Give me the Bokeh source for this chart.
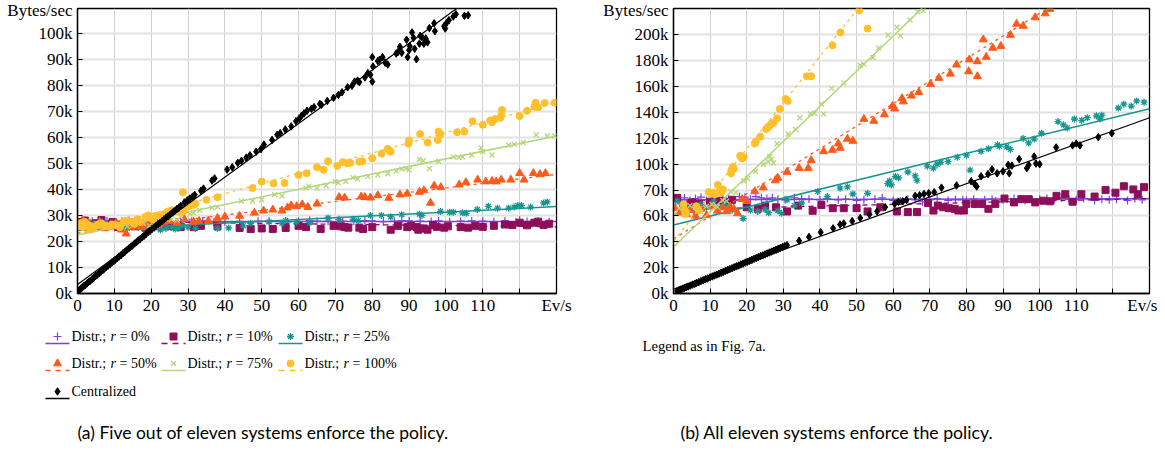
from bokeh.plotting import figure
from bokeh.models import Range1d, FixedTicker
from bokeh.layouts import column, row
from bokeh.core.properties import value
from bokeh.embed import file_html
from bokeh.resources import INLINE

SERIF = "Liberation Serif"
SANS = "Lato"

# ---------------- axis ticks / labels ----------------
x_ticks = [0, 10, 20, 30, 40, 50, 60, 70, 80, 90, 100, 110, 120]
x_tick_labels = ["0", "10", "20", "30", "40", "50", "60", "70", "80", "90", "100", "110", ""]
x_unit = "Ev/s"
y_unit = "Bytes/sec"
ya_ticks = [0, 10, 20, 30, 40, 50, 60, 70, 80, 90, 100]
ya_labels = ["0k", "10k", "20k", "30k", "40k", "50k", "60k", "70k", "80k", "90k", "100k"]
yb_ticks = [0, 20, 40, 60, 80, 100, 120, 140, 160, 180, 200]
yb_labels = ["0k", "20k", "40k", "60k", "70k", "100k", "120k", "140k", "160k", "180k", "200k"]

r_values = ["0%", "10%", "25%", "50%", "75%", "100%"]
central_name = "Centralized"
caption_a = "(a) Five out of eleven systems enforce the policy."
caption_b = "(b) All eleven systems enforce the policy."
legend_note = "Legend as in Fig. 7a."

# ---------------- panel (a) data, values in k bytes/sec ----------------
a_r0 = [(0.5,27.5),(2,28.0),(4,27.8),(6,27.6),(8,27.9),(10,27.4),(12,27.8),(14,28.0),(16,27.5),(18,27.7),
        (20,27.3),(22,27.5),(25,27.5),(28,27.6),(31,27.8),(34,27.9),(37,27.4),(40,27.6),(44,27.7),(49,27.8),
        (52,27.8),(57,27.5),(60,27.7),(63,28.0),(65,27.8),(68,27.8),(72,27.8),(75,27.8),(78,28.0),(80,27.9),
        (83,27.6),(86,27.8),(88,28.0),(90,27.9),(93,27.8),(96,27.7),(98,27.9),(101,27.6),(104,27.8),(107,27.9),
        (110,27.8),(113,27.6),(116,27.9),(119,27.6),(120,28.1),(122,27.7),(125,27.8),(128,27.6)]
a_r0_fit = [(0, 27.6), (130, 27.7)]
a_r10 = [(0.8,27.5),(2,28.0),(3.5,26.5),(5,27.0),(6.5,28.2),(8,26.0),(9.5,27.5),(11,25.5),(12.5,26.8),(14,27.5),
         (15.5,25.8),(17,26.5),(18.5,25.2),(20,26.5),(22,27.0),(24,26.0),(26,25.8),(28,25.5),(31.5,25.5),(33.5,26.0),
         (38,25.8),(44,25.2),(47,24.8),(50,25.0),(53,24.8),(56.5,25.2),(60,26.0),(62,25.5),(66,24.8),(69.5,26.0),
         (71.5,25.8),(72.5,25.5),(73.5,25.3),(76.5,25.3),(77.5,24.8),(80,25.5),(85,24.5),(87,26.0),(89.5,25.5),(90.5,26.0),
         (92,25.5),(92.5,24.5),(94,25.0),(95,24.5),(96.5,26.3),(97.5,25.6),(99.5,25.3),(100.5,25.8),(104,25.5),(106,25.3),
         (108,26.0),(110,25.6),(113,26.0),(116,26.5),(118,26.3),(120,27.2),(122,26.2),(124,27.2),(125,27.6),(126.5,26.3),(128,26.8)]
a_r10_fit = [(0, 27.8), (130, 25.6)]
a_r25 = [(0.5,27.0),(1.5,26.5),(3,27.5),(4.5,26.8),(6,26.0),(7.5,27.0),(9,25.8),(10.5,26.5),(12,25.5),(13.5,25.0),
         (15,26.5),(16.5,25.5),(18,25.0),(19.5,26.5),(21,25.2),(22.5,24.5),(24,25.0),(25.5,25.5),(26.5,24.8),(27.5,25.2),
         (28.5,26.0),(30,25.5),(32,25.0),(38,25.0),(41,25.2),(45,26.0),(47,27.0),(52,27.5),(55.5,27.0),(56.5,28.0),
         (59.5,27.5),(63,27.2),(68,29.0),(71,28.5),(74.8,28.5),(76.2,28.0),(79.5,30.0),(82.5,30.0),(85,29.5),(88,30.3),
         (92.8,30.5),(93.5,30.0),(98.5,31.5),(101,31.2),(102,31.2),(104.5,31.0),(105.5,30.8),(108.5,32.3),(111.5,33.5),(114,32.8),
         (117,32.8),(118.5,33.2),(119.5,33.8),(120.5,33.8),(123,33.2),(126.5,34.8),(127.5,35.2)]
a_r25_fit = [(0, 24.2), (130, 33.4)]
a_r50 = [(0.5,26.5),(1.5,28.0),(3,27.0),(4.5,26.0),(6,27.5),(7.5,25.0),(9,26.5),(10.5,27.2),(12,24.5),(13.2,23.0),
         (14.5,25.5),(16,26.0),(17.5,25.5),(19,26.5),(20.5,27.0),(22,26.5),(23.5,27.5),(25,27.8),(27,27.2),(29,28.5),
         (31.5,27.5),(33,27.8),(35.5,28.0),(38,29.0),(40,29.5),(44,29.8),(48,31.0),(50.5,31.8),(53,32.2),(55.5,31.8),
         (57,33.0),(58,33.8),(59.5,33.5),(61,34.2),(62.5,33.2),(65,34.5),(71,37.0),(72.5,36.8),(77,37.2),(78,37.0),
         (79.5,36.8),(81.5,37.7),(84.5,36.7),(87.5,38.0),(89.5,38.3),(92.8,39.0),(94,39.6),(95.8,34.8),(96.8,41.4),(98.6,40.8),
         (103.6,41.8),(105.4,42.7),(108.6,43.7),(110.8,43.0),(112.5,43.2),(113.6,43.0),(115,43.7),(117.6,43.7),(120,46.2),(121.2,43.7),
         (123.7,46.2),(125.5,45.8),(127,46.2)]
a_r50_fit = [(0, 23.2), (130, 45.8)]
a_r75 = [(0.5,27.0),(1.5,26.5),(3,25.5),(4.5,26.2),(6,25.8),(7.5,26.5),(9,25.2),(10.5,26.0),(12,26.5),(13.5,25.8),
         (15,26.2),(16.5,27.5),(18,26.8),(19.5,26.0),(21,27.5),(22.5,27.2),(24,28.5),(25.5,28.5),(27,28.2),(28,29.5),
         (30.5,30.5),(31.5,31.0),(33.2,32.0),(36.5,33.0),(38,33.2),(44.5,35.5),(47.5,35.5),(50,36.0),(53.5,38.0),(55.5,37.5),
         (62,40.5),(62.8,41.2),(65,40.5),(67.5,41.5),(70,43.0),(70.8,42.5),(72.8,43.0),(74.8,44.5),(76,44.0),(78.8,45.0),
         (81.5,45.5),(84.2,46.0),(86.5,47.0),(88,47.8),(89.2,48.0),(90,47.5),(92.8,51.5),(93.8,51.0),(95.5,48.0),(98,50.8),
         (102,52.5),(103.5,52.3),(104.5,52.5),(107,53.2),(109.5,56.0),(110,54.5),(112.5,53.2),(117,57.0),(118.5,57.3),(121,58.0),
         (124.5,61.0),(127.5,60.5),(129.5,60.5)]
a_r75_fit = [(0, 22.5), (130, 60.5)]
a_r100 = [(0.8,27.0),(1.2,26.0),(1.5,25.5),(2,27.5),(2.5,26.5),(3,26.2),(3.5,24.5),(4.5,25.5),(5.5,26.5),(6.5,27.0),
          (7.5,26.0),(8.5,25.8),(9.5,26.5),(10.5,26.2),(11.5,25.5),(12.5,27.8),(13.5,28.0),(14.5,27.5),(15.5,26.8),(16.2,28.5),
          (17,27.5),(18.5,29.5),(19.2,30.0),(19.8,29.0),(20.5,28.5),(21.5,30.0),(22.5,29.5),(23.5,30.5),(24.5,31.5),(25.5,32.0),
          (26.5,31.8),(27.5,31.5),(28.6,38.9),(28.8,31.7),(29.5,33.5),(30.2,33.5),(31.5,34.0),(32,34.5),(35,36.0),(38,37.0),
          (47.5,40.5),(50,43.0),(53.2,42.3),(56.2,42.5),(60,45.5),(62.2,46.2),(65,48.5),(66.8,47.5),(68,50.8),(70.5,49.0),
          (72,50.5),(73.2,50.0),(74,50.2),(76.5,50.6),(77.3,50.8),(80,52.0),(82.5,53.7),(84.2,55.6),(85,54.5),(84.6,55.0),
          (89.8,57.6),(90,58.8),(93,61.3),(95,58.0),(98,62.2),(98.5,61.2),(97.8,59.0),(103,62.0),(105,62.2),(107.2,66.2),
          (110,64.8),(112,66.5),(112.5,65.8),(113.3,67.0),(115,68.5),(115.2,70.5),(114.8,67.5),(120,68.2),(122,70.2),(124,71.8),
          (124.3,73.3),(125,71.5),(126.8,73.2),(129.5,73.3)]
a_r100_fit = [(0, 22.8), (130, 73.5)]
a_central = [(0.3,1.1),(0.6,1.5),(1.0,2.0),(1.3,2.3),(1.7,2.9),(2.1,3.2),(2.6,3.9),(3.0,4.4),(3.5,4.9),(4.0,5.6),
             (4.4,6.0),(4.9,6.7),(5.4,7.2),(5.9,7.8),(6.3,8.3),(6.8,8.9),(7.3,9.5),(7.8,10.1),(8.3,10.7),(8.8,11.2),
             (9.3,11.9),(9.8,12.4),(10.3,13.0),(10.8,13.6),(11.3,14.2),(11.8,14.7),(12.3,15.4),(12.8,15.9),(13.3,16.6),(13.9,17.3),
             (14.4,17.9),(14.9,18.4),(15.5,19.2),(16.0,19.7),(16.5,20.4),(17.0,20.9),(17.6,21.7),(18.1,22.2),(18.6,22.8),(19.2,23.6),
             (19.7,24.1),(20.2,24.7),(20.8,25.4),(21.3,26.0),(21.9,26.7),(22.4,27.2),(23.0,27.9),(23.5,28.5),(24.1,29.2),(24.6,29.7),
             (25.2,30.4),(25.8,31.1),(26.3,31.6),(26.9,32.4),(27.5,33.0),(28.0,33.6),(29.0,35.0),(29.8,35.8),(30.5,36.5),(31.2,37.2),
             (31.8,37.9),(33.5,39.5),(34.2,40.3),(36.5,43.4),(37.2,44.2),(40.6,47.6),(42.0,48.5),(43.5,50.2),(44.5,51.0),(45.8,52.2),
             (46.8,53.1),(48.5,54.5),(49.8,55.5),(50.6,57.2),(52.8,59.0),(54.2,61.0),(55.0,61.6),(56.4,63.0),(58.0,64.2),(59.3,66.2),
             (60.2,67.2),(60.8,68.3),(61.5,69.2),(62.3,70.2),(63.5,71.0),(64.2,71.6),(65.8,72.8),(66.2,72.5),(67.8,74.0),(69.5,75.2),
             (70.8,76.3),(71.8,77.3),(73.3,79.2),(74.5,79.8),(75.2,81.4),(76.0,81.8),(76.5,81.2),(78.0,83.0),(78.8,84.7),(79.5,84.0),
             (80.0,81.4),(80.2,87.2),(80.0,90.8),(81.5,89.3),(82.0,89.8),(82.8,90.8),(83.5,88.7),(84.2,88.0),(86.5,92.2),(87.0,92.8),
             (87.5,94.8),(88.0,92.5),(89.3,97.5),(89.6,90.8),(90.0,93.5),(90.2,95.0),(90.8,100.3),(91.2,98.2),(91.5,94.0),(92.0,90.0),
             (92.8,96.0),(93.0,99.0),(93.5,98.5),(94.0,96.0),(94.5,98.0),(95.0,96.5),(95.5,102.0),(96.8,103.8),(97.0,100.8),(99.5,102.7),
             (99.8,101.8),(100.2,104.0),(100.8,105.0),(102.0,106.4),(102.7,107.3),(105.0,106.7),(106.0,106.9)]
a_central_fit = [(0, 3.5), (130, 137.4)]

# ---------------- panel (b) data, values in k bytes/sec ----------------
b_r0 = [(0.5,73.0),(1.5,71.5),(3,74.0),(4.5,72.0),(6,73.5),(7.5,74.5),(9,72.0),(10.5,73.0),(12,71.5),(13.5,74.0),
        (15,73.5),(16.5,72.0),(18,75.0),(19.5,74.5),(21,73.0),(22.5,75.0),(24,74.0),(25.5,73.5),(27,74.0),(28.5,73.0),
        (30.5,72.5),(33,74.0),(35,73.5),(37,73.0),(40,72.5),(42,73.5),(45,72.5),(47,73.0),(50,72.0),(52,72.5),
        (55,73.0),(57,74.0),(60,72.0),(62,71.5),(64,73.0),(66,72.5),(68,71.0),(70,72.5),(72,73.5),(75,72.0),
        (77,72.5),(79,72.5),(80,72.0),(82,73.0),(85,72.5),(87,73.0),(88,71.5),(90,72.5),(93,73.5),(95,73.0),
        (96,72.0),(98,72.0),(100,73.0),(102,73.5),(104,72.5),(106,74.0),(108,73.0),(110,72.5),(112,73.5),(115,72.0),
        (117,73.0),(119,72.5),(121,73.0),(124,72.0),(126,73.5),(128,72.5)]
b_r0_fit = [(0, 72.5), (130, 73.3)]
b_r10 = [(1,74.0),(3,68.5),(5,70.5),(7,69.3),(10,71.0),(12.5,71.8),(14,70.5),(16,72.5),(20,66.7),(23,65.5),
         (25,68.0),(28,66.7),(31,63.5),(34,68.0),(38,64.0),(40.4,68.5),(43.5,66.0),(46.5,66.0),(50,66.0),(53,63.5),
         (56.5,66.7),(61,63.5),(64,63.0),(66.5,63.0),(69.5,70.0),(71,64.2),(72.2,68.0),(73.7,66.7),(75.2,66.0),(76.8,65.5),
         (77.8,64.2),(79.3,64.2),(80,69.3),(82.3,69.3),(84.3,69.3),(86,65.5),(87.9,69.3),(90.4,73.5),(93,70.5),(95,73.0),
         (97,73.0),(98.8,70.5),(101,71.8),(102.8,71.3),(104.6,75.5),(107,76.8),(109,71.0),(111.4,76.8),(115,75.0),(118,80.0),
         (120.7,78.0),(123,83.0),(125.6,80.5),(126.8,76.8),(128.5,82.3)]
b_r10_fit = [(0, 65.0), (130, 73.5)]
b_r25 = [(1,71.5),(2.5,68.0),(4.5,66.0),(6,63.0),(7.5,69.0),(9,66.5),(11,71.5),(12.5,67.0),(14,69.0),(16,64.5),
         (19,58.0),(21,64.5),(23,63.5),(25,65.0),(26,62.5),(28.5,64.0),(29.5,62.0),(31,72.5),(33,68.0),(35,70.0),
         (39.4,79.0),(42,75.0),(45.5,81.5),(47.5,82.5),(49,77.0),(53,77.5),(58.5,85.0),(59,87.0),(59.5,84.0),(60.6,90.5),
         (61.5,89.5),(64,94.0),(66,91.0),(66.5,87.5),(69.3,98.5),(71,97.0),(72,100.0),(73,101.5),(75,102.0),(77.5,105.5),
         (80,107.0),(81,95.5),(84,110.0),(86,112.0),(88.5,115.0),(89,114.0),(91,113.5),(92,111.5),(95.5,120.0),(97,116.5),
         (98.5,119.5),(100.5,124.0),(105,133.0),(106.5,130.5),(107.5,128.0),(109.5,135.0),(111.5,134.0),(113,136.0),(115.5,137.5),(116.5,135.0),
         (117,138.0),(121.5,143.5),(123,146.5),(125,145.0),(126.5,149.0),(128.5,148.0)]
b_r25_fit = [(0, 53.0), (130, 143.0)]
b_r50 = [(0.5,66.0),(1.5,62.5),(2.5,68.0),(3.5,61.5),(4.5,64.5),(6,60.0),(7.5,65.5),(9,60.5),(10.5,67.5),(12,64.0),
         (13.5,66.5),(14.5,63.5),(15.5,67.0),(16.5,65.5),(17.5,62.0),(18.7,73.0),(20,71.5),(22.2,79.0),(24.5,82.0),(27.8,87.4),
         (28.5,89.4),(31,94.0),(34.3,97.0),(36.8,97.0),(37.6,103.0),(41,110.0),(43.4,111.0),(45.5,112.6),(45,116.0),(47.5,119.6),
         (49,118.0),(52,135.0),(54.7,133.5),(57.6,138.5),(59.8,145.0),(60.4,143.0),(62.4,151.0),(62.8,148.5),(65,153.0),(67,155.7),
         (70.2,162.0),(72.5,166.7),(75.6,170.0),(77.3,177.0),(80.8,181.0),(80.6,171.8),(83,168.0),(83,179.6),(85.4,183.0),(84.6,196.5),
         (87.2,190.0),(89.4,191.4),(92,200.0),(93.7,208.6),(95.5,207.0),(98.8,213.6),(101.5,216.6),(102.8,220.0)]
b_r50_fit = [(0, 42.3), (130, 269.0)]
b_r75 = [(0.5,62.0),(1.5,66.0),(3,64.0),(4.5,68.0),(6,66.5),(7.5,63.0),(9,67.5),(10.5,69.0),(12,67.0),(13.5,72.0),
         (14.5,71.5),(15.6,79.0),(17,78.0),(19.2,87.0),(20.2,89.0),(22.4,94.5),(24.5,100.0),(25.8,102.0),(26.3,105.8),(26.8,104.0),
         (27.3,101.0),(28.3,115.9),(31.3,123.4),(33.3,127.0),(34.5,136.0),(37.4,139.0),(38.5,139.5),(41,139.0),(40.4,146.6),(43.2,158.7),
         (46.5,163.0),(51,176.6),(52,177.5),(54.5,182.6),(56,190.0),(58.6,200.0),(61,206.0),(62,199.5),(64.6,211.6),(66.7,218.0),
         (68.2,219.0)]
b_r75_fit = [(0, 36.0), (80, 253.6)]
b_r100 = [(2.8,69.0),(3.0,64.5),(3.2,61.5),(3.5,62.5),(6.2,67.5),(6.8,64.5),(9.6,78.5),(10.2,77.5),(10.8,78.0),(11.5,77.0),
          (12.1,84.0),(12.6,79.0),(13.1,78.5),(13.5,80.5),(15.7,93.0),(15.8,95.5),(16.2,98.0),(16.5,96.5),(18.2,106.5),(18.7,104.5),
          (19.2,105.5),(22.2,116.0),(22.5,117.5),(23.7,121.4),(25.3,127.2),(25.8,128.5),(26.3,130.0),(26.8,131.5),(27.3,132.0),(28.3,135.5),
          (29.0,142.8),(30.6,150.5),(31.2,149.0),(36.4,168.0),(37.6,168.0),(43.4,192.0),(45.6,202.0),(50.7,219.0),(53.0,205.0)]
b_r100_fit = [(0, 40.4), (62, 262.0)]
b_central = [(1.0,2.0),(1.5,2.6),(2.0,3.1),(2.5,3.7),(3.0,4.4),(3.5,4.9),(4.0,5.4),(4.6,6.1),(5.2,6.9),(5.8,7.5),
             (6.3,8.2),(6.9,8.8),(7.5,9.6),(8.1,10.3),(8.7,11.0),(9.3,11.6),(10.0,12.5),(10.6,13.2),(11.2,13.9),(11.8,14.6),
             (12.4,15.3),(13.0,16.0),(13.6,16.7),(14.2,17.5),(14.8,18.2),(15.4,18.9),(16.0,19.6),(16.6,20.3),(17.2,21.0),(17.8,21.7),
             (18.4,22.5),(19.0,23.1),(19.6,23.9),(20.2,24.6),(20.8,25.3),(21.4,26.0),(22.0,26.8),(22.6,27.4),(23.2,28.2),(23.8,28.9),
             (24.4,29.6),(25.0,30.3),(25.6,31.0),(26.2,31.7),(26.8,32.4),(27.4,33.2),(28.0,33.8),(28.6,34.6),(29.2,35.3),(29.8,36.0),
             (30.4,36.7),(31.0,37.4),(34.3,40.8),(37.0,43.8),(40.2,47.4),(43.6,50.4),(45.5,53.4),(46.5,54.2),(48.8,56.0),(51.0,58.4),
             (53.5,61.2),(55.6,63.5),(57.8,66.8),(60.4,69.3),(61.4,71.0),(62.6,71.3),(63.6,72.3),(66.0,75.5),(67.2,76.0),(68.4,77.0),
             (69.7,77.6),(71.2,78.3),(73.2,81.9),(77.3,83.6),(81.3,86.9),(82.3,84.5),(82.8,82.8),(84.0,90.7),(85.9,92.4),(87.0,96.0),
             (88.4,93.0),(90.0,94.5),(91.4,99.5),(91.7,93.0),(92.4,99.0),(94.4,104.0),(96.5,97.0),(97.0,99.5),(98.5,106.0),(99.0,100.5),
             (100.0,100.0),(104.5,113.0),(109.0,114.6),(110.0,116.0),(111.0,114.6),(116.0,121.0),(119.7,124.0)]
b_central_fit = [(0, 3.3), (130, 136.0)]

# ---------------- styles (not data) ----------------
STY = {
    "r0":   dict(color="#7B3FE4", marker="cross",    size=8,   dash="solid", lw=1.5, mlw=1.2),
    "r10":  dict(color="#8E0E5A", marker="square",   size=7,   dash="5 4",   lw=1.3, mlw=1.0),
    "r25":  dict(color="#16968F", marker="asterisk", size=7,   dash="solid", lw=1.5, mlw=1.3),
    "r50":  dict(color="#FF5A1A", marker="triangle", size=8,   dash="3 4",   lw=1.3, mlw=1.0),
    "r75":  dict(color="#B5D67A", marker="x",        size=7,   dash="solid", lw=1.5, mlw=1.3),
    "r100": dict(color="#FFC02B", marker="circle",   size=7,   dash="3 4",   lw=1.3, mlw=1.0),
    "c":    dict(color="#000000", marker="diamond",  size=7.5, dash="solid", lw=1.2, mlw=1.0),
}
LEG_DASH = {"r0": "solid", "r10": "6 5", "r25": "solid", "r50": "5 5", "r75": "solid", "r100": "6 5", "c": "solid"}

TOP_H = 322
XMAX = 130


def draw_series(p, key, pts, fit):
    s = STY[key]
    xs = [a for a, b in pts]
    ys = [b for a, b in pts]
    p.scatter(xs, ys, marker=s["marker"], size=s["size"], line_color=s["color"],
              fill_color=s["color"], line_width=s["mlw"])
    p.line([a for a, b in fit], [b for a, b in fit], line_color=s["color"],
           line_width=s["lw"], line_dash=s["dash"])


def make_panel(width, mb_left, mb_right, mb_top, mb_bottom, ymax, yticks, ylabels, series):
    p = figure(width=width, height=TOP_H, x_range=Range1d(0, XMAX), y_range=Range1d(0, ymax),
               toolbar_location=None, output_backend="svg",
               min_border_left=mb_left, min_border_right=mb_right,
               min_border_top=mb_top, min_border_bottom=mb_bottom)
    p.background_fill_color = "white"
    p.border_fill_color = "white"
    p.outline_line_color = "black"
    p.outline_line_width = 1.3
    # unit names sit on ticks placed on the frame edges (their tick marks hide in the outline)
    xt = x_ticks + [XMAX]
    xl = x_tick_labels + [x_unit]
    yt = yticks + [ymax]
    yl = ylabels + [y_unit]
    p.xaxis.ticker = FixedTicker(ticks=xt)
    p.xaxis.major_label_overrides = {t: l for t, l in zip(xt, xl)}
    p.yaxis.ticker = FixedTicker(ticks=yt)
    p.yaxis.major_label_overrides = {t: l for t, l in zip(yt, yl)}
    for ax in (p.xaxis[0], p.yaxis[0]):
        ax.axis_line_color = "black"
        ax.axis_line_width = 1.3
        ax.major_tick_in = 5
        ax.major_tick_out = 0
        ax.major_tick_line_color = "black"
        ax.minor_tick_line_color = None
        ax.major_label_text_font = SERIF
        ax.major_label_text_font_size = "17px"
        ax.major_label_text_color = "black"
    p.xaxis.major_label_standoff = 2
    p.yaxis.major_label_standoff = 5
    p.xgrid.ticker = FixedTicker(ticks=x_ticks)
    p.ygrid.ticker = FixedTicker(ticks=yticks)
    p.xgrid.grid_line_color = "#d2d2d2"
    p.xgrid.grid_line_width = 1
    p.ygrid.grid_line_color = "#e2e2e2"
    p.ygrid.grid_line_width = 2
    for key, pts, fit in series:
        draw_series(p, key, pts, fit)
    return p


series_a = [("r0", a_r0, a_r0_fit), ("r10", a_r10, a_r10_fit), ("r25", a_r25, a_r25_fit),
            ("r50", a_r50, a_r50_fit), ("r75", a_r75, a_r75_fit), ("r100", a_r100, a_r100_fit),
            ("c", a_central, a_central_fit)]
series_b = [("r0", b_r0, b_r0_fit), ("r10", b_r10, b_r10_fit), ("r25", b_r25, b_r25_fit),
            ("r50", b_r50, b_r50_fit), ("r75", b_r75, b_r75_fit), ("r100", b_r100, b_r100_fit),
            ("c", b_central, b_central_fit)]

# panel a: frame x 77..556, y 8..295 ; panel b: frame x 669..1149, y 4..293
p1 = make_panel(600, 77, 44, 8, TOP_H - 8 - 287, 109.5, ya_ticks, ya_labels, series_a)
p2 = make_panel(557, 69, 8, 4, TOP_H - 4 - 289, 220.5, yb_ticks, yb_labels, series_b)

# ---------------- bottom strip: legend and captions (page coordinates) ----------------
BOT_H = 125
p3 = figure(width=1157, height=BOT_H, x_range=Range1d(0, 1157), y_range=Range1d(TOP_H + BOT_H, TOP_H),
            toolbar_location=None, output_backend="svg", x_axis_type=None, y_axis_type=None,
            min_border=0)
p3.grid.visible = False
p3.outline_line_color = None
p3.background_fill_color = "white"
p3.border_fill_color = "white"

leg_keys = ["r0", "r10", "r25", "r50", "r75", "r100", "c"]
col_x = [45, 161, 278]
row_y = [336, 363, 391]
for i, key in enumerate(leg_keys):
    s = STY[key]
    cx = col_x[i % 3]
    cy = row_y[i // 3]
    p3.segment(x0=[cx], y0=[cy + 7], x1=[cx + 24], y1=[cy + 7], line_color=s["color"],
               line_width=1.3, line_dash=LEG_DASH[key])
    p3.scatter([cx + 12], [cy], marker=s["marker"], size=s["size"], line_color=s["color"],
               fill_color=s["color"], line_width=s["mlw"])
    tx = cx + 26
    if key == "c":
        p3.text([tx], [cy], text=[central_name], text_font=value(SERIF), text_font_size="14px",
                text_baseline="middle", text_align="left", text_color="black")
    else:
        p3.text([tx], [cy], text=["Distr.;"], text_font=value(SERIF), text_font_size="14px",
                text_baseline="middle", text_align="left", text_color="black")
        p3.text([tx + 39], [cy], text=["r"], text_font=value(SERIF), text_font_size="14px",
                text_font_style="italic", text_baseline="middle", text_align="left", text_color="black")
        p3.text([tx + 48], [cy], text=["= " + r_values[i]], text_font=value(SERIF), text_font_size="14px",
                text_baseline="middle", text_align="left", text_color="black")

p3.text([642], [345], text=[legend_note], text_font=value(SERIF), text_font_size="14.7px",
        text_baseline="middle", text_align="left", text_color="black")
p3.text([77], [432], text=[caption_a], text_font=value(SANS), text_font_size="17.5px",
        text_baseline="middle", text_align="left", text_color="black")
p3.text([680], [432], text=[caption_b], text_font=value(SANS), text_font_size="17.7px",
        text_baseline="middle", text_align="left", text_color="black")

layout = column(row(p1, p2), p3)
open("out.html", "w").write(file_html(layout, INLINE))
